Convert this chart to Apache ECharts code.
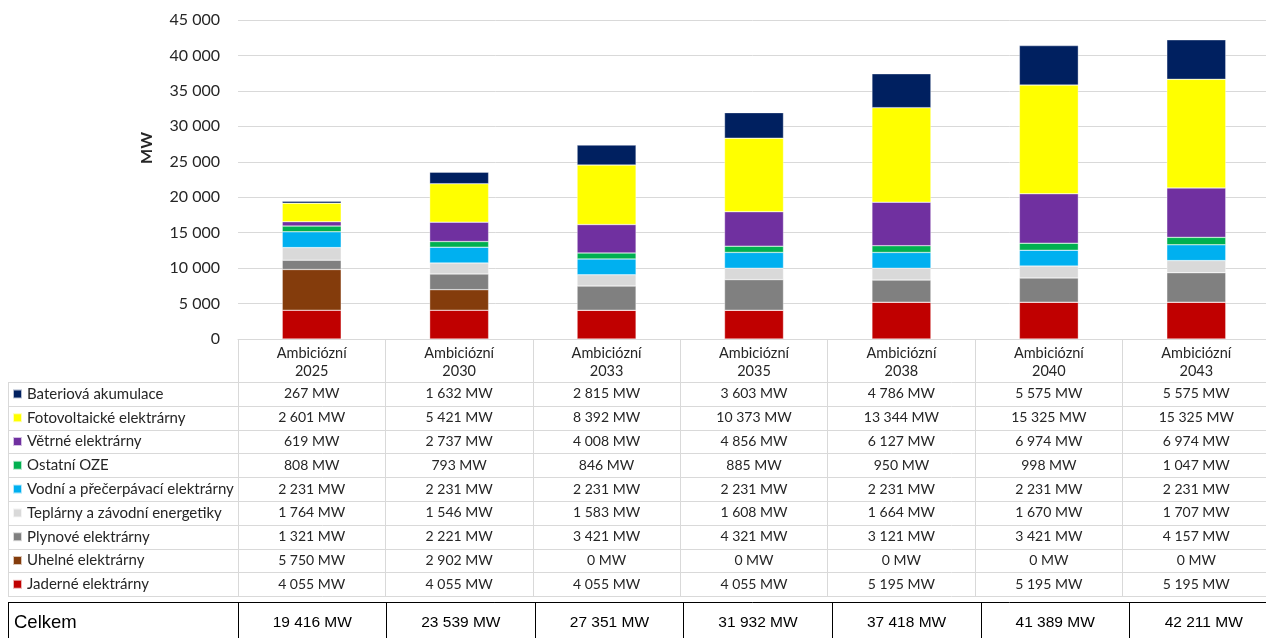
<!DOCTYPE html>
<html>
<head>
<meta charset="utf-8">
<script src="https://cdn.jsdelivr.net/npm/echarts@6/dist/echarts.min.js"></script>
<style>
  html, body { margin: 0; padding: 0; background: #fff; }
  #chart { width: 1266px; height: 638px; }
</style>
</head>
<body>
<div id="chart"></div>
<script>
// Scenario columns
const categories = ['Ambiciózní\n2025', 'Ambiciózní\n2030', 'Ambiciózní\n2033', 'Ambiciózní\n2035',
                    'Ambiciózní\n2038', 'Ambiciózní\n2040', 'Ambiciózní\n2043'];

// Installed capacity by source, MW
const jaderne   = [4055, 4055, 4055, 4055, 5195, 5195, 5195];
const uhelne    = [5750, 2902, 0, 0, 0, 0, 0];
const plynove   = [1321, 2221, 3421, 4321, 3121, 3421, 4157];
const teplarny  = [1764, 1546, 1583, 1608, 1664, 1670, 1707];
const vodni     = [2231, 2231, 2231, 2231, 2231, 2231, 2231];
const ostatni   = [808, 793, 846, 885, 950, 998, 1047];
const vetrne    = [619, 2737, 4008, 4856, 6127, 6974, 6974];
const fotovolt  = [2601, 5421, 8392, 10373, 13344, 15325, 15325];
const baterie   = [267, 1632, 2815, 3603, 4786, 5575, 5575];
const celkem    = [19416, 23539, 27351, 31932, 37418, 41389, 42211];

// y axis ticks
const yMin = 0, yMax = 45000, yStep = 5000;

// Stack order, bottom to top
const sources = [
  { name: 'Jaderné elektrárny', data: jaderne, color: '#C00000' },
  { name: 'Uhelné elektrárny', data: uhelne, color: '#843C0C' },
  { name: 'Plynové elektrárny', data: plynove, color: '#808080' },
  { name: 'Teplárny a závodní energetiky', data: teplarny, color: '#D9D9D9' },
  { name: 'Vodní a přečerpávací elektrárny', data: vodni, color: '#00B0F0' },
  { name: 'Ostatní OZE', data: ostatni, color: '#00B050' },
  { name: 'Větrné elektrárny', data: vetrne, color: '#7030A0' },
  { name: 'Fotovoltaické elektrárny', data: fotovolt, color: '#FFFF00' },
  { name: 'Bateriová akumulace', data: baterie, color: '#002060' }
];
// Table rows, top to bottom
const tableRows = sources.slice().reverse();

const fmt = n => String(n).replace(/\B(?=(\d{3})+(?!\d))/g, ' ');

const FONT = 'Lato, "Open Sans", sans-serif';
const TXT = '#262626';
const LINE = '#D9D9D9';

// table geometry
const gridTop = 20, axisY = 339, headerH = 43, rowH = 23.8;
const tableLeft = 8, tableRight = 1266;
const rowsTop = axisY + headerH;
const celkemTop = 602;

const xAxes = [{
  type: 'category', gridIndex: 0, data: categories, position: 'bottom',
  axisLine: { show: true, onZero: false, lineStyle: { color: LINE, width: 1 } },
  axisTick: { show: true, alignWithLabel: false, length: rowsTop + tableRows.length * rowH - axisY,
              lineStyle: { color: LINE, width: 1 } },
  axisLabel: { interval: 0, margin: 5, fontFamily: FONT, fontSize: 14.5, lineHeight: 18, color: TXT }
}];
tableRows.forEach((row, i) => {
  xAxes.push({
    type: 'category', gridIndex: 0, data: categories, position: 'bottom',
    offset: headerH + i * rowH,
    axisLine: { show: false, onZero: false }, axisTick: { show: false }, splitLine: { show: false },
    axisLabel: { interval: 0, margin: 0, lineHeight: rowH, fontFamily: FONT, fontSize: 14, color: TXT,
                 formatter: (v, idx) => fmt(row.data[idx]) + ' MW' }
  });
});
// totals row, its own small table
xAxes.push({
  type: 'category', gridIndex: 1, data: categories, position: 'top',
  axisLine: { show: true, onZero: false, lineStyle: { color: '#000', width: 1 } },
  axisTick: { show: true, inside: true, alignWithLabel: false, length: 50, lineStyle: { color: '#000', width: 1 } },
  axisLabel: { inside: true, interval: 0, margin: 0, lineHeight: 42,
               fontFamily: '"Liberation Sans", Arial, sans-serif', fontSize: 15.5, color: '#000',
               formatter: (v, idx) => fmt(celkem[idx]) + ' MW' }
});

const graphics = [];
for (let i = 0; i <= tableRows.length; i++) {
  const y = Math.round(rowsTop + i * rowH) + 0.5;
  graphics.push({ type: 'line', silent: true, shape: { x1: tableLeft, y1: y, x2: tableRight, y2: y },
                  style: { stroke: LINE, lineWidth: 1 } });
}
graphics.push({ type: 'line', silent: true,
  shape: { x1: tableLeft + 0.5, y1: rowsTop, x2: tableLeft + 0.5, y2: rowsTop + tableRows.length * rowH },
  style: { stroke: LINE, lineWidth: 1 } });
// totals box, left part
graphics.push({ type: 'line', silent: true,
  shape: { x1: tableLeft, y1: celkemTop + 0.5, x2: 238, y2: celkemTop + 0.5 }, style: { stroke: '#000', lineWidth: 1 } });
graphics.push({ type: 'line', silent: true,
  shape: { x1: tableLeft + 0.5, y1: celkemTop, x2: tableLeft + 0.5, y2: 660 }, style: { stroke: '#000', lineWidth: 1 } });
graphics.push({ type: 'text', silent: true, x: 14, y: 623,
  style: { text: 'Celkem', font: '18.5px "Liberation Sans", Arial, sans-serif', fill: '#000', verticalAlign: 'middle' } });
// y axis title
graphics.push({ type: 'text', silent: true, x: 147, y: 148, rotation: Math.PI / 2,
  style: { text: 'MW', font: 'bold 16px ' + FONT, fill: TXT, align: 'center', verticalAlign: 'middle' } });

const option = {
  animation: false,
  backgroundColor: '#fff',
  grid: [
    { left: 238, top: gridTop, width: 1032, height: axisY - gridTop, outerBoundsMode: 'none' },
    { left: 238, top: celkemTop, width: 1040, height: 50, outerBoundsMode: 'none' }
  ],
  legend: {
    orient: 'vertical', left: 12, top: rowsTop, padding: 0, itemGap: 0,
    itemWidth: 9, itemHeight: 9, icon: 'rect', selectedMode: false,
    data: tableRows.map(s => s.name),
    textStyle: { fontFamily: FONT, fontSize: 15, lineHeight: rowH, color: TXT }
  },
  xAxis: xAxes,
  yAxis: [
    { type: 'value', gridIndex: 0, min: yMin, max: yMax, interval: yStep,
      axisLine: { show: false }, axisTick: { show: false },
      splitLine: { lineStyle: { color: LINE, width: 1 } },
      axisLabel: { margin: 18, fontFamily: FONT, fontSize: 16, color: TXT, formatter: v => fmt(v) } },
    { type: 'value', gridIndex: 1, min: 0, max: 1, show: false }
  ],
  series: sources.map(s => ({
    name: s.name, type: 'bar', stack: 'total', xAxisIndex: 0, yAxisIndex: 0,
    barWidth: '40%', data: s.data,
    itemStyle: { color: s.color, borderColor: 'rgba(255,255,255,0.7)', borderWidth: 0.5 },
    emphasis: { disabled: true }
  })),
  graphic: graphics
};

const chart = echarts.init(document.getElementById('chart'), null, { renderer: 'canvas' });
chart.setOption(option);
</script>
</body>
</html>
